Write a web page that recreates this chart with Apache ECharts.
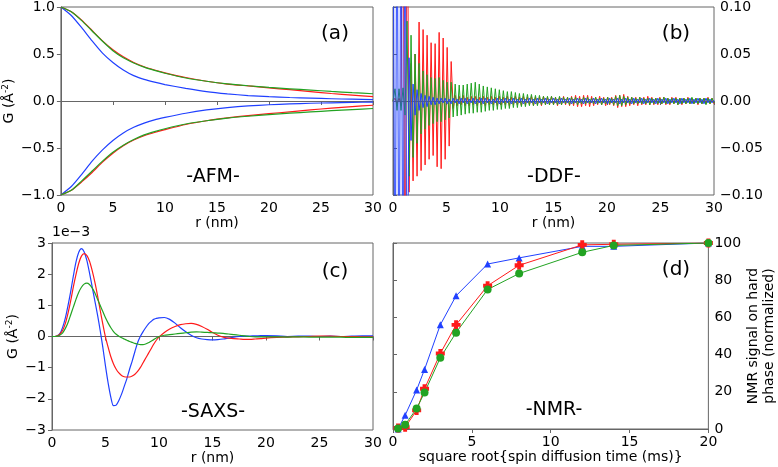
<!DOCTYPE html>
<html><head><meta charset="utf-8">
<script src="https://cdn.jsdelivr.net/npm/echarts@6/dist/echarts.min.js"></script>
<style>html,body{margin:0;padding:0;background:#fff}#c{width:778px;height:467px}</style>
</head><body><div id="c"></div>
<script>
// ---- Panel (a) AFM ----
const rAfm = [0,1,2,3,4,5,6,7,8,9,10,12,14,16,18,20,22,24,26,28,30];
const afmBlueUp = [1.0,0.91,0.78,0.64,0.51,0.41,0.33,0.27,0.23,0.20,0.175,0.135,0.10,0.076,0.058,0.046,0.037,0.030,0.024,0.019,0.015];
const afmRedUp = [1.0,0.95,0.86,0.75,0.64,0.545,0.47,0.41,0.365,0.33,0.30,0.25,0.21,0.18,0.16,0.14,0.12,0.10,0.08,0.063,0.046];
const afmGreenUp = [1.0,0.95,0.855,0.745,0.635,0.535,0.46,0.405,0.36,0.325,0.295,0.245,0.21,0.182,0.162,0.145,0.13,0.116,0.102,0.089,0.077];
const afmBlueDown = [-1.0,-0.91,-0.78,-0.64,-0.52,-0.42,-0.34,-0.28,-0.235,-0.20,-0.175,-0.13,-0.095,-0.07,-0.052,-0.04,-0.031,-0.024,-0.019,-0.015,-0.012];
const afmRedDown = [-1.0,-0.95,-0.86,-0.76,-0.65,-0.555,-0.475,-0.415,-0.37,-0.335,-0.305,-0.25,-0.21,-0.18,-0.155,-0.135,-0.115,-0.095,-0.075,-0.06,-0.045];
const afmGreenDown = [-1.0,-0.95,-0.85,-0.745,-0.64,-0.545,-0.47,-0.41,-0.36,-0.325,-0.295,-0.245,-0.21,-0.182,-0.162,-0.145,-0.13,-0.116,-0.103,-0.091,-0.08];

// ---- Panel (b) DDF (values in units of 0.001, sampled every ddfStep nm) ----
const ddfStep = 0.1875;
const ddfBlue = [300,-300,300,-300,300,-300,300,-300,46,-42,
18,-15,12,-10,8,-7,6,-6,5,-4,
4,-4,3,-3,3,-2,3,-3,2,-3,
3,-2,2,-3,3,-2,3,-3,2,-2,
3,-3,2,-2,3,-3,3,-2,2,-3,
2,-2,3,-3,2,-2,3,-2,2,-3,
3,-2,2,-2,3,-3,2,-2,3,-2,
2,-3,3,-2,2,-2,3,-3,2,-2,
3,-2,2,-3,3,-2,2,-2,3,-3,
2,-2,3,-2,2,-3,3,-2,2,-2,
3,-3,2,-2,3,-2,2,-3,3,-2,
2,-2,3,-3,2,-2,3,-2,2,-3,
3,-2,2,-2,3,-3,2,-2,3,-2,
2,-3,3,-2,2,-2,3,-3,2,-2,
3,-2,2,-3,3,-2,2,-2,3,-3,
2,-2,3,-2,2,-3,3,-2,2,-2,
1];
const ddfRed = [0,3,-3,3,-3,300,-300,300,-97,40,
-85,50,-80,84,-74,76,-68,70,-62,62,
-58,61,-70,73,-72,67,-62,57,-48,42,
-8,6,-5,5,-4,6,-5,4,-5,5,
-4,5,-5,4,-4,5,-5,4,-4,5,
-4,4,-5,5,-4,4,-4,5,-5,4,
-4,5,-4,4,-5,5,-4,4,-4,5,
-5,4,-4,4,-5,5,-4,4,-4,5,
-4,4,-5,4,-4,5,-4,4,-5,5,
-5,6,-6,5,-6,6,-5,6,-6,5,
-5,4,-4,5,-4,4,-5,4,-4,4,
-5,6,-7,6,-6,7,-6,5,-5,4,
-4,4,-5,4,-4,4,-4,5,-4,4,
-4,3,-4,4,-3,4,-4,3,-4,4,
-3,4,-4,3,-4,3,-3,4,-3,3,
-3,3,-4,3,-3,3,-3,4,-3,3,
-3];
const ddfGreen = [0,13,-10,13,-10,14,-15,85,-80,70,
-60,50,-45,40,-35,32,-30,28,-26,25,
-24,24,-22,25,-22,22,-20,20,-18,20,
-17,18,-16,17,-15,17,-14,18,-13,19,
-13,20,-12,18,-12,16,-11,15,-10,14,
-10,13,-9,12,-9,11,-8,10,-8,10,
-7,9,-7,8,-6,8,-6,7,-5,7,
-5,6,-5,6,-4,5,-4,5,-4,5,
-4,4,-4,5,-4,4,-3,4,-4,4,
-3,4,-4,3,-3,4,-3,4,-3,3,
-3,4,-3,3,-4,3,-3,4,-3,3,
-4,5,-5,6,-5,5,-4,4,-3,4,
-3,3,-3,4,-3,3,-3,3,-4,3,
-3,3,-3,3,-3,4,-3,3,-3,3,
-3,3,-4,3,-3,3,-3,3,-3,4,
-3,3,-3,3,-3,3,-4,3,-3,3,
-2];

// ---- Panel (c) SAXS (values in units of 1e-3) ----
const rSaxs = [0,0.25,0.5,0.75,1,1.25,1.5,1.75,2,2.25,2.5,2.75,3,3.25,3.5,3.75,4,4.25,4.5,4.75,
5,5.25,5.5,5.75,6,6.25,6.5,6.75,7,7.25,7.5,7.75,8,8.25,8.5,8.75,9,9.25,9.5,9.75,10,
10.5,11,11.5,12,12.5,13,13.5,14,14.5,15,15.5,16,16.5,17,17.5,18,18.5,19,19.5,20,
21,22,23,24,25,26,27,28,29,30];
const saxsBlue = [0,0,0.02,0.1,0.3,0.6,1.0,1.45,1.95,2.4,2.7,2.82,2.72,2.45,2.05,1.6,1.15,0.7,0.2,-0.35,
-0.95,-1.5,-1.95,-2.22,-2.2,-2.05,-1.85,-1.6,-1.35,-1.05,-0.78,-0.48,-0.2,0.0,0.15,0.28,0.4,0.48,0.55,0.58,0.6,
0.61,0.55,0.43,0.28,0.15,0.04,-0.04,-0.08,-0.1,-0.11,-0.1,-0.08,-0.05,-0.02,0,0.01,0.015,0.02,0.025,0.03,
0.02,0.0,0.01,0.01,0.0,0.01,0.0,0.01,0.02,0.02];
const saxsRed = [0,0,0.02,0.08,0.2,0.42,0.75,1.15,1.6,2.0,2.35,2.58,2.66,2.6,2.42,2.12,1.75,1.32,0.85,0.4,
-0.02,-0.35,-0.65,-0.88,-1.05,-1.17,-1.25,-1.29,-1.3,-1.3,-1.27,-1.21,-1.12,-1.0,-0.85,-0.7,-0.55,-0.4,-0.25,-0.12,-0.02,
0.13,0.24,0.32,0.38,0.41,0.42,0.39,0.32,0.23,0.13,0.04,-0.02,-0.05,-0.07,-0.08,-0.09,-0.09,-0.08,-0.07,-0.05,
-0.03,-0.02,-0.01,0,0.01,0.01,0,0,-0.01,-0.01];
const saxsGreen = [0,0,0.01,0.05,0.12,0.26,0.45,0.7,0.95,1.2,1.42,1.58,1.68,1.71,1.67,1.56,1.4,1.2,1.0,0.8,
0.6,0.43,0.28,0.16,0.07,0.01,-0.04,-0.08,-0.12,-0.16,-0.19,-0.22,-0.24,-0.26,-0.26,-0.24,-0.2,-0.15,-0.1,-0.05,0.0,
0.04,0.06,0.08,0.1,0.12,0.14,0.15,0.14,0.13,0.12,0.11,0.1,0.08,0.06,0.04,0.02,0.0,-0.01,-0.01,-0.01,
-0.01,-0.02,-0.01,-0.02,-0.02,-0.02,-0.02,-0.03,-0.03,-0.03];

// ---- Panel (d) NMR ----
const nmrX = [0.32,0.77,1.5,2,3,4,6,8,12,14,20];
const nmrBlue = [0,7.4,21,32,56,71.6,88.7,92,98.2,98.2,100];
const nmrRed = [0.5,1,10,21.6,40.6,56,77,88,99,99.3,100];
const nmrGreen = [0.3,2.3,11,19.6,38.3,51.8,75,83.6,95,98.7,100];

// ---- ticks ----
const afmTicks = [-1,-0.5,0,0.5,1];
const ddfTicks = [-0.1,-0.05,0,0.05,0.1];
const saxsTicks = [-3,-2,-1,0,1,2,3];
const nmrTicks = [0,20,40,60,80,100];

const BLUE = '#2040ff', RED = '#ff1a1a', GREEN = '#22a322';
const FONT = 'DejaVu Sans';
const AX = '#666';
const minus = s => String(s).replace('-', '\u2212');
const pairs = (xs, ys, k) => xs.map((x, i) => [x, ys[i] * (k || 1)]);
const stepPairs = (ys, step, k) => ys.map((y, i) => [i * step, y * k]);

function xAx(grid, max, name) {
  return {type:'value', gridIndex:grid, min:0, max:max, interval:5,
    name:name, nameLocation:'middle', nameGap:20,
    nameTextStyle:{fontFamily:FONT, fontSize:14, color:'#000'},
    axisLine:{lineStyle:{color:AX}}, axisTick:{length:4, lineStyle:{color:AX}},
    axisLabel:{fontFamily:FONT, fontSize:14, color:'#000', margin:6},
    splitLine:{show:false}};
}
function yAx(grid, pos, min, max, interval, fmt, name, nameGap) {
  const o = {type:'value', gridIndex:grid, position:pos, min:min, max:max, interval:interval,
    axisLine:{show:true, lineStyle:{color:AX}}, axisTick:{show:true, length:4, lineStyle:{color:AX}},
    axisLabel:{fontFamily:FONT, fontSize:14, color:'#000', margin:6, formatter:fmt},
    splitLine:{show:false}};
  if (name) {
    o.name = name; o.nameLocation = 'middle'; o.nameGap = nameGap; o.nameRotate = 90;
    o.nameTextStyle = {fontFamily:FONT, fontSize:14, color:'#000', lineHeight:16,
      rich:{sup:{fontFamily:FONT, fontSize:9, verticalAlign:'top', lineHeight:9, padding:[0,0,6,0]}}};
  }
  return o;
}
function line(xi, yi, data, color, width, smooth, z) {
  return {type:'line', xAxisIndex:xi, yAxisIndex:yi, data:data, showSymbol:false,
    smooth:smooth, lineStyle:{color:color, width:width}, itemStyle:{color:color}, z:z || 2, silent:true};
}
function txt(x, y, s, size) {
  return {type:'text', x:x, y:y, z:100, style:{text:s, fill:'#000', font:size + 'px "DejaVu Sans"', align:'center', verticalAlign:'middle'}};
}

const chart = echarts.init(document.getElementById('c'), null, {renderer:'canvas'});
chart.setOption({
  animation:false,
  backgroundColor:'#fff',
  grid:[
    {left:52, top:6, width:321, height:189, show:true, borderColor:AX, borderWidth:1},
    {left:393, top:6, width:321, height:189, show:true, borderColor:AX, borderWidth:1},
    {left:52, top:243, width:321, height:187, show:true, borderColor:AX, borderWidth:1},
    {left:393, top:243, width:321, height:186, show:true, borderColor:AX, borderWidth:1}
  ],
  xAxis:[xAx(0,30,'r (nm)'), xAx(1,30,'r (nm)'), xAx(2,30,'r (nm)'), xAx(3,20,'square root{spin diffusion time (ms)}')],
  yAxis:[
    yAx(0,'left',afmTicks[0],afmTicks[afmTicks.length-1],0.5, v => minus(v.toFixed(1)), 'G (Å{sup|-2})', 30),
    yAx(1,'right',ddfTicks[0],ddfTicks[ddfTicks.length-1],0.05, v => minus(v.toFixed(2))),
    yAx(2,'left',saxsTicks[0],saxsTicks[saxsTicks.length-1],1, v => minus(v.toFixed(0)), 'G (Å{sup|-2})', 30),
    yAx(3,'right',nmrTicks[0],nmrTicks[nmrTicks.length-1],20, v => String(v), 'NMR signal on hard\nphase (normalized)', 34)
  ],
  graphic:[
    txt(335,34,'(a)',20), txt(213,177,'-AFM-',19),
    txt(676,34,'(b)',20), txt(554,177,'-DDF-',19),
    txt(335,272,'(c)',20), txt(213,412,'-SAXS-',19),
    txt(676,270,'(d)',20), txt(554,410,'-NMR-',19),
    {type:'text', x:52, y:232, z:100, style:{text:'1e\u22123', fill:'#000', font:'14px "DejaVu Sans"', align:'left', verticalAlign:'middle'}}
  ],
  series:[
    line(0,0,pairs(rAfm,afmBlueUp),BLUE,1.2,0.2),
    line(0,0,pairs(rAfm,afmBlueDown),BLUE,1.2,0.2),
    line(0,0,pairs(rAfm,afmRedUp),RED,1.2,0.2),
    line(0,0,pairs(rAfm,afmRedDown),RED,1.2,0.2),
    line(0,0,pairs(rAfm,afmGreenUp),GREEN,1.2,0.2),
    line(0,0,pairs(rAfm,afmGreenDown),GREEN,1.2,0.2),

    line(1,1,stepPairs(ddfRed,ddfStep,0.001),RED,1,false,2),
    line(1,1,stepPairs(ddfGreen,ddfStep,0.001),GREEN,1,false,3),
    line(1,1,stepPairs(ddfBlue,ddfStep,0.001),BLUE,1,false,4),

    line(2,2,pairs(rSaxs,saxsBlue),BLUE,1.2,0.3),
    line(2,2,pairs(rSaxs,saxsRed),RED,1.2,0.3),
    line(2,2,pairs(rSaxs,saxsGreen),GREEN,1.2,0.3),

    Object.assign(line(3,3,pairs(nmrX,nmrBlue),BLUE,1,false), {showSymbol:true, symbol:'triangle', symbolSize:7}),
    Object.assign(line(3,3,pairs(nmrX,nmrRed),RED,1,false), {showSymbol:true, symbol:'path://M-1.3,-3H1.3V-1.3H3V1.3H1.3V3H-1.3V1.3H-3V-1.3H-1.3Z', symbolSize:9}),
    Object.assign(line(3,3,pairs(nmrX,nmrGreen),GREEN,1,false), {showSymbol:true, symbol:'circle', symbolSize:8})
  ]
});
</script></body></html>
